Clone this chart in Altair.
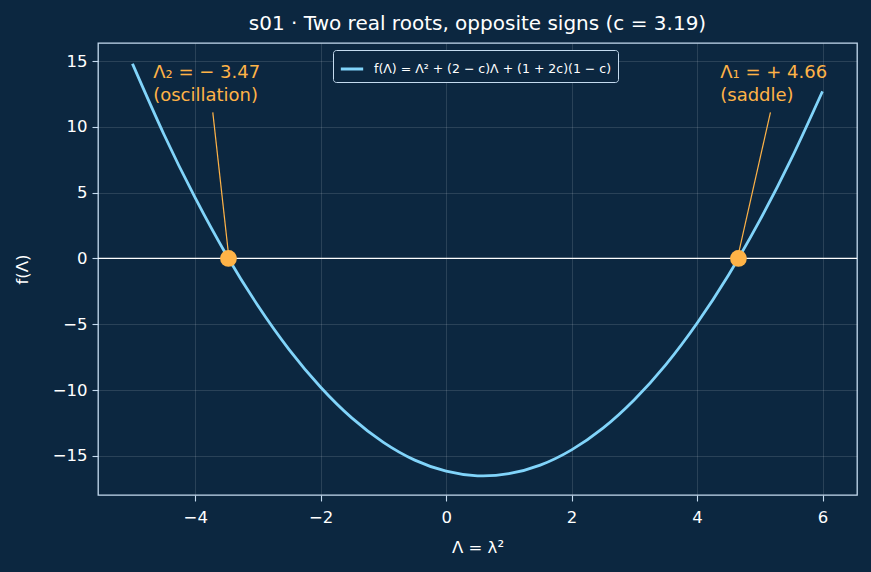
import altair as alt
import pandas as pd

# Curve samples
lam = [-5.0, -4.5, -4.0, -3.5, -3.0, -2.5, -2.0, -1.5, -1.0, -0.5, 0.0, 0.5,
       1.0, 1.5, 2.0, 2.5, 3.0, 3.5, 4.0, 4.5, 5.0, 5.5, 6.0]
fval = [14.79, 9.44, 4.60, 0.25, -3.59, -6.94, -9.78, -12.13, -13.97, -15.32,
        -16.16, -16.51, -16.35, -15.70, -14.54, -12.89, -10.73, -8.08, -4.92,
        -1.27, 2.89, 7.54, 12.70]
roots = [-3.47, 4.66]
root_labels = ["Λ₂ = − 3.47", "Λ₁ = + 4.66"]
root_notes = ["(oscillation)", "(saddle)"]
label_x = [-4.67, 4.37]
label_y1 = [14.1, 14.1]
label_y2 = [12.35, 12.35]
arrow_x0 = [-3.72, 5.17]
arrow_y0 = [11.1, 11.1]
arrow_y1 = [0.35, 0.35]
arrow_angle = [354, 12.5]
legend_label = "f(Λ) = Λ² + (2 − c)Λ + (1 + 2c)(1 − c)"

BG = "#0c2740"
ORANGE = "#ffb347"
BLUE = "#81d4fa"
SPINE = "#c5dbef"
FONT = "DejaVu Sans"

curve = pd.DataFrame({"x": lam, "y": fval, "s": legend_label})
pts = pd.DataFrame({"x": roots, "y": [0, 0], "lab": root_labels, "note": root_notes,
                    "lx": label_x, "ly1": label_y1, "ly2": label_y2,
                    "ax": arrow_x0, "ay": arrow_y0, "ay1": arrow_y1, "ang": arrow_angle})

xs = alt.Scale(domain=[-5.55, 6.55], nice=False, zero=False)
ys = alt.Scale(domain=[-17.97, 16.37], nice=False, zero=False)

xax = alt.Axis(values=[-4, -2, 0, 2, 4, 6], title="Λ = λ²", format="d",
               labelExpr="replace(datum.label, '-', '−')", labelPadding=8, titlePadding=14)
yax = alt.Axis(values=[-15, -10, -5, 0, 5, 10, 15], title="f(Λ)", format="d",
               labelExpr="replace(datum.label, '-', '−')", labelPadding=5, titlePadding=22)

zero = alt.Chart(pd.DataFrame({"y": [0]})).mark_rule(color="white", strokeWidth=1.3).encode(
    y=alt.Y("y:Q", scale=ys, axis=yax))

line = alt.Chart(curve).mark_line(strokeWidth=2.8, interpolate="natural").encode(
    x=alt.X("x:Q", scale=xs, axis=xax),
    y=alt.Y("y:Q", scale=ys),
    color=alt.Color("s:N", scale=alt.Scale(domain=[legend_label], range=[BLUE]),
                    legend=alt.Legend(title=None, orient="none", legendX=235, legendY=7,
                                      symbolType="stroke", symbolStrokeWidth=3, symbolSize=500,
                                      labelFontSize=12.5, labelColor="white", labelFont=FONT,
                                      labelLimit=500, labelOffset=9,
                                      fillColor=BG, strokeColor=SPINE, padding=6,
                                      cornerRadius=3)),
)

arrows = alt.Chart(pts).mark_rule(color=ORANGE, strokeWidth=1.2).encode(
    x="ax:Q", y="ay:Q", x2="x:Q", y2="ay1:Q")

heads = alt.Chart(pts).mark_point(shape="triangle-down", filled=True, color=ORANGE, size=40, opacity=1).encode(
    x="x:Q", y="ay1:Q", angle=alt.Angle("ang:Q", scale=None))

dots = alt.Chart(pts).mark_circle(color=ORANGE, size=280, opacity=1).encode(
    x="x:Q", y="y:Q")

t1 = alt.Chart(pts).mark_text(align="left", baseline="middle", color=ORANGE, fontSize=18, font=FONT).encode(
    x="lx:Q", y="ly1:Q", text="lab:N")
t2 = alt.Chart(pts).mark_text(align="left", baseline="middle", color=ORANGE, fontSize=18, font=FONT).encode(
    x="lx:Q", y="ly2:Q", text="note:N")

chart = alt.layer(zero, line, arrows, heads, dots, t1, t2).properties(
    width=759, height=452,
    title=alt.TitleParams("s01 · Two real roots, opposite signs (c = 3.19)", color="white",
                          fontSize=20, font=FONT, fontWeight="normal", offset=9, anchor="middle"),
    background=BG,
    padding={"left": 98, "top": 43, "right": 14, "bottom": 77},
    autosize=alt.AutoSizeParams(type="none"),
).configure_view(stroke=SPINE, strokeWidth=1.3, fill=BG).configure_axis(
    domain=False, gridColor="white", gridOpacity=0.16, gridWidth=0.8,
    tickColor=SPINE, tickSize=6, tickWidth=1.1,
    labelColor="white", labelFontSize=16.5, labelFont=FONT,
    titleColor="white", titleFontSize=16.5, titleFont=FONT, titleFontWeight="normal",
)

chart.save("out.html", embed_options={"renderer": "svg", "actions": False})
